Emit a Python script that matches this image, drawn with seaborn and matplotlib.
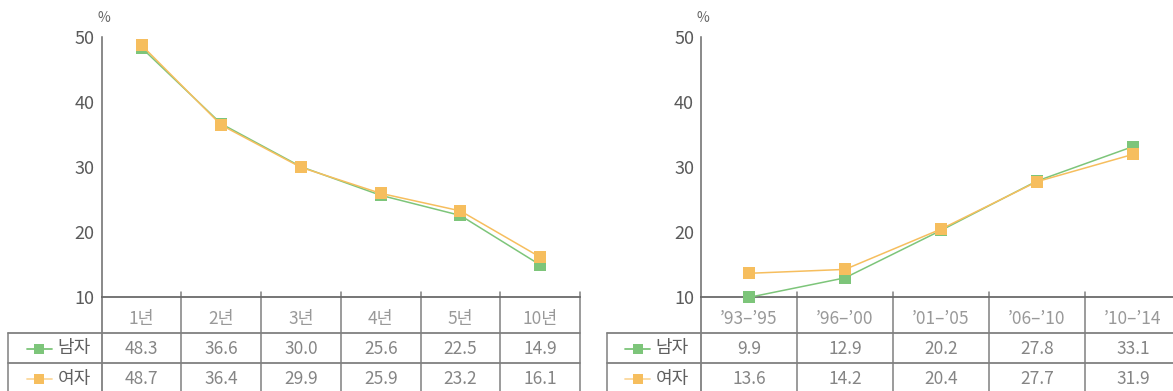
import matplotlib
matplotlib.use("Agg")
import matplotlib.pyplot as plt
import matplotlib.transforms as mtransforms
import seaborn as sns
import pandas as pd

sns.set_theme(style="white")
plt.rcParams["font.family"] = ["Noto Sans CJK KR", "DejaVu Sans"]

# ---- data -------------------------------------------------------------
series_names = ["남자", "여자"]

left_categories = ["1년", "2년", "3년", "4년", "5년", "10년"]
left_male = [48.3, 36.6, 30.0, 25.6, 22.5, 14.9]
left_female = [48.7, 36.4, 29.9, 25.9, 23.2, 16.1]

right_categories = ["’93–’95", "’96–’00", "’01–’05", "’06–’10", "’10–’14"]
right_male = [9.9, 12.9, 20.2, 27.8, 33.1]
right_female = [13.6, 14.2, 20.4, 27.7, 31.9]

y_ticks = [10, 20, 30, 40, 50]

# ---- styling ----------------------------------------------------------
GREEN = "#7dc57a"
ORANGE = "#f6be5e"
ORANGE_LIGHT = "#fbd89c"
GRID = "#808080"
AXIS = "#6a6a6a"
palette = {"남자": GREEN, "여자": ORANGE}
legend_line = {"남자": GREEN, "여자": ORANGE_LIGHT}

W, H = 1173, 391
fig = plt.figure(figsize=(W / 100, H / 100), dpi=100)

# overlay in pixel coordinates for the table frame
overlay = fig.add_axes([0, 0, 1, 1], zorder=0)
overlay.set_xlim(0, W)
overlay.set_ylim(H, 0)
overlay.axis("off")

Y_TOP, Y_BOT = 36.7, 296.7          # pixel rows of 50 and 10
ROW_TOP, ROW_MID = 332.7, 362.7     # table row separators
HEAD_Y, ROW1_Y, ROW2_Y = 319, 348.5, 379


def draw_panel(x_axis, col_w, table_left, categories, male, female, right_clip):
    n = len(categories)
    x_right = x_axis + col_w * n
    ax = fig.add_axes([x_axis / W, 1 - Y_BOT / H,
                       (x_right - x_axis) / W, (Y_BOT - Y_TOP) / H], zorder=2)
    ax.patch.set_alpha(0)

    df = pd.DataFrame({
        "pos": list(range(n)) * 2,
        "value": list(male) + list(female),
        "series": [series_names[0]] * n + [series_names[1]] * n,
    })
    sns.lineplot(data=df, x="pos", y="value", hue="series", palette=palette,
                 hue_order=series_names, marker="s", markersize=8.5,
                 markeredgewidth=0, linewidth=1.1, sort=False, legend=False,
                 ax=ax, clip_on=False, zorder=3)

    ax.set_xlim(-0.5, n - 0.5)
    ax.set_ylim(10, 50)
    ax.set_xlabel("")
    ax.set_ylabel("")
    ax.set_xticks([])
    ax.set_yticks(y_ticks)
    ax.set_yticklabels([str(t) for t in y_ticks])
    ax.tick_params(axis="y", direction="in", length=7.2, width=1.1,
                   color=AXIS, pad=5, labelsize=13, labelcolor="#5a5a5a")
    for side in ["top", "right"]:
        ax.spines[side].set_visible(False)
    ax.spines["left"].set_color(AXIS)
    ax.spines["left"].set_linewidth(1.1)
    ax.spines["bottom"].set_color(AXIS)
    ax.spines["bottom"].set_linewidth(1.3)

    ax.text(x_axis + 2, 17.5, "%", transform=overlay.transData, ha="center",
            va="center", fontsize=10, color="#666666")

    # table frame
    tr = mtransforms.blended_transform_factory(ax.transData, overlay.transData)
    overlay.plot([x_axis, x_axis], [Y_BOT, H + 2], color=AXIS, lw=1.1)
    for k in range(n):
        xb = k + 0.5
        ax.plot([xb, xb], [Y_BOT - 5, H + 2], transform=tr, color=GRID,
                lw=1.1, clip_on=False, zorder=1)
    right_edge = W + 5 if right_clip else x_right
    overlay.plot([table_left, table_left], [ROW_TOP, H + 2], color=GRID, lw=1.1)
    for yy in (ROW_TOP, ROW_MID):
        overlay.plot([table_left, right_edge], [yy, yy], color=GRID, lw=1.3)

    # header and values
    for k, cat in enumerate(categories):
        ax.text(k, HEAD_Y, cat, transform=tr, ha="center", va="center",
                fontsize=12.5, color="#999999", clip_on=False)
        ax.text(k, ROW1_Y, f"{male[k]:.1f}", transform=tr, ha="center",
                va="center", fontsize=12.5, color="#858585", clip_on=False)
        ax.text(k, ROW2_Y, f"{female[k]:.1f}", transform=tr, ha="center",
                va="center", fontsize=12.5, color="#858585", clip_on=False)

    # row labels with series keys
    for name, yy in zip(series_names, (ROW1_Y, ROW2_Y)):
        overlay.plot([table_left + 18.5, table_left + 43.5], [yy, yy],
                     color=legend_line[name], lw=1.3)
        overlay.plot([table_left + 31], [yy], marker="s", markersize=7,
                     markeredgewidth=0, color=palette[name])
        overlay.text(table_left + 49, yy, name, ha="left", va="center",
                     fontsize=13, color="#606060")
    return ax


draw_panel(101.7, 79.7, 8.3, left_categories, left_male, left_female, False)
draw_panel(701.0, 96.0, 606.7, right_categories, right_male, right_female, True)

fig.savefig("out.png", dpi=100)
